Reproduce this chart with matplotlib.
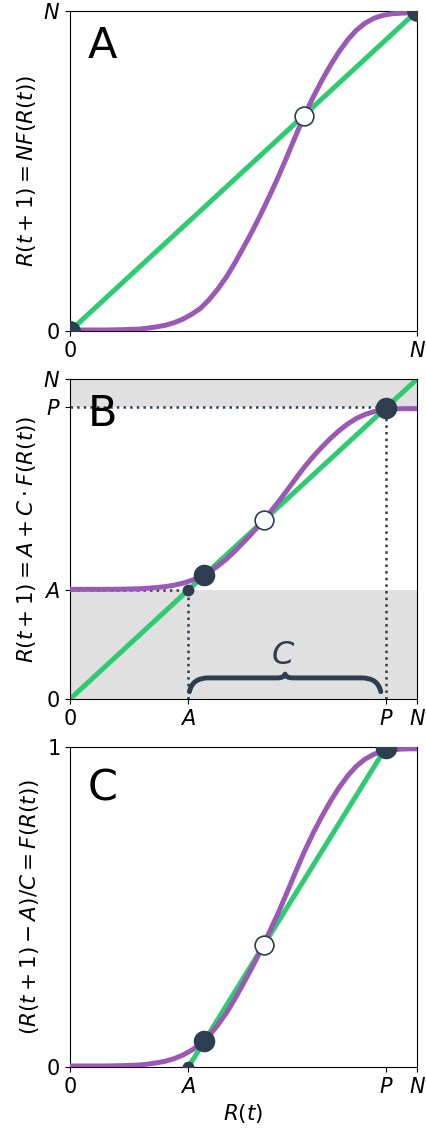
import matplotlib
matplotlib.use("Agg")
import matplotlib.pyplot as plt
from matplotlib.path import Path
from matplotlib.patches import PathPatch

PURPLE = "#9b59b6"
GREEN = "#2ecc71"
DARK = "#2c3e50"
SHADE = "#e0e0e0"

# response curve F(R) (N = 1)
f_x = [0.0, 0.10, 0.15, 0.175, 0.2, 0.225, 0.25, 0.275, 0.3, 0.325, 0.35, 0.375,
       0.4, 0.425, 0.45, 0.475, 0.5, 0.525, 0.55, 0.575, 0.6, 0.625, 0.65, 0.675,
       0.7, 0.725, 0.75, 0.775, 0.8, 0.825, 0.85, 0.875, 0.9, 0.925, 0.95, 0.975, 1.0]
f_y = [0.003, 0.003, 0.004, 0.005, 0.006, 0.009, 0.013, 0.018, 0.026, 0.037, 0.052, 0.070,
       0.097, 0.130, 0.168, 0.213, 0.262, 0.312, 0.366, 0.423, 0.482, 0.545, 0.610, 0.673,
       0.730, 0.782, 0.830, 0.873, 0.910, 0.940, 0.962, 0.977, 0.986, 0.991, 0.993, 0.994, 0.994]

A = 0.341
P = 0.911
C = P - A

# fixed points
fix_a = [0.0, 0.673, 1.0]
fix_low = 0.387
fix_mid = 0.558
fix_high = 0.909

b_curve = [A + C * f for f in f_y]

TICK = 15
LABEL = 15.5


def style(ax, ticks, labels, yticks, ylabels):
    ax.set_xlim(0, 1)
    ax.set_ylim(0, 1)
    ax.set_xticks(ticks)
    ax.set_xticklabels(labels, fontsize=TICK)
    ax.set_yticks(yticks)
    ax.set_yticklabels(ylabels, fontsize=TICK)


fig = plt.figure(figsize=(4.27, 11.3), dpi=100)
axA = fig.add_axes([0.164, 0.7071, 0.813, 0.2832])
axB = fig.add_axes([0.164, 0.3814, 0.813, 0.2832])
axC = fig.add_axes([0.164, 0.0558, 0.813, 0.2832])

# panel A
axA.plot([0, 1], [0, 1], color=GREEN, lw=3.6, zorder=2)
axA.plot(f_x, f_y, color=PURPLE, lw=3.6, zorder=3, solid_joinstyle="round")
axA.plot([fix_a[0], fix_a[2]], [fix_a[0], fix_a[2]], "o", color=DARK, ms=14, zorder=4)
axA.plot([fix_a[1]], [fix_a[1]], "o", mfc="white", mec=DARK, mew=1.2, ms=13.5, zorder=4)
style(axA, [0, 1], ["$0$", "$N$"], [0, 1], ["$0$", "$N$"])
axA.set_ylabel("$R(t+1) = NF(R(t))$", fontsize=LABEL)
axA.text(0.05, 0.955, "A", transform=axA.transAxes, fontsize=31, ha="left", va="top")

# panel B
axB.axhspan(0, A, color=SHADE, lw=0, zorder=0)
axB.axhspan(P, 1, color=SHADE, lw=0, zorder=0)
axB.plot([0, A], [A, A], ":", color=DARK, lw=1.8, zorder=1)
axB.plot([A, A], [0, A], ":", color=DARK, lw=1.8, zorder=1)
axB.plot([0, P], [P, P], ":", color=DARK, lw=1.8, zorder=1)
axB.plot([P, P], [0, P], ":", color=DARK, lw=1.8, zorder=1)
axB.plot([0, 1], [0, 1], color=GREEN, lw=3.6, zorder=2)
axB.plot(f_x, b_curve, color=PURPLE, lw=3.6, zorder=3, solid_joinstyle="round")
axB.plot([A], [A], "o", color=DARK, ms=7.5, zorder=4)
axB.plot([fix_low, fix_high], [fix_low, fix_high], "o", color=DARK, ms=14.5, zorder=4)
axB.plot([fix_mid], [fix_mid], "o", mfc="white", mec=DARK, mew=1.2, ms=13.5, zorder=4)

# brace spanning A..P
x0, x1 = A + 0.003, P - 0.016
xm = (x0 + x1) / 2
y_tip, y_bar, y_mid = 0.023, 0.066, 0.078
verts = [(x0, y_tip), (x0 + 0.008, y_bar), (x0 + 0.055, y_bar),
         (xm - 0.022, y_bar), (xm - 0.003, y_bar), (xm, y_mid),
         (xm + 0.003, y_bar), (xm + 0.022, y_bar),
         (x1 - 0.055, y_bar), (x1 - 0.008, y_bar), (x1, y_tip)]
codes = [Path.MOVETO, Path.CURVE3, Path.CURVE3,
         Path.LINETO, Path.CURVE3, Path.CURVE3,
         Path.CURVE3, Path.CURVE3,
         Path.LINETO, Path.CURVE3, Path.CURVE3]
axB.add_patch(PathPatch(Path(verts, codes), fill=False, edgecolor=DARK, lw=3.5,
                        capstyle="round", joinstyle="round", zorder=3))
axB.text(xm - 0.005, 0.1375, "$C$", fontsize=23, color=DARK, ha="center", va="center")

style(axB, [0, A, P, 1], ["$0$", "$A$", "$P$", "$N$"],
      [0, A, P, 1], ["$0$", "$A$", "$P$", "$N$"])
axB.set_ylabel(r"$R(t+1) = A + C \cdot F(R(t))$", fontsize=LABEL)
axB.text(0.05, 0.955, "B", transform=axB.transAxes, fontsize=31, ha="left", va="top")

# panel C
axC.plot([A, P], [0, 1], color=GREEN, lw=3.6, zorder=2)
axC.plot(f_x, f_y, color=PURPLE, lw=3.6, zorder=3, solid_joinstyle="round")
axC.plot([A], [0], "o", color=DARK, ms=7.5, zorder=4)
axC.plot([fix_low, fix_high], [(fix_low - A) / C, (fix_high - A) / C], "o",
         color=DARK, ms=14.5, zorder=4)
axC.plot([fix_mid], [(fix_mid - A) / C], "o", mfc="white", mec=DARK, mew=1.2,
         ms=13.5, zorder=4)
style(axC, [0, A, P, 1], ["$0$", "$A$", "$P$", "$N$"], [0, 1], ["$0$", "$1$"])
axC.set_ylabel("$(R(t+1) - A)/C = F(R(t))$", fontsize=LABEL)
axC.set_xlabel("$R(t)$", fontsize=LABEL)
axC.text(0.05, 0.935, "C", transform=axC.transAxes, fontsize=31, ha="left", va="top")

fig.savefig("out.png", dpi=100)
